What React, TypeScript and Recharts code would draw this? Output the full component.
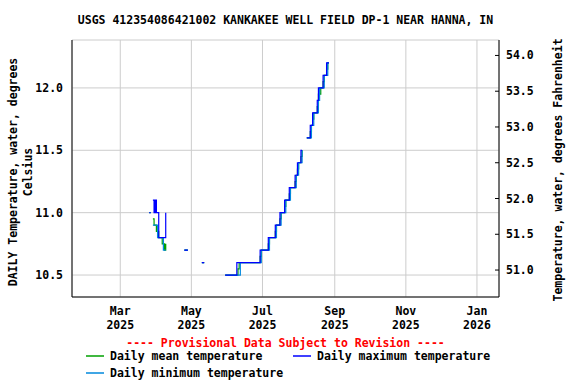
import React from 'react';
import { LineChart, Line, XAxis, YAxis, CartesianGrid } from 'recharts';

// daily values, one array per run of consecutive days
const segmentStart = ['2025-03-26', '2025-03-29', '2025-04-25', '2025-05-10', '2025-05-30', '2025-08-08'];

const dailyMax = [
  [11.0, 11.0],
  [11.1, 11.0, 11.1, 11.0, 11.0, 10.8, 10.8, 10.8, 10.8, 10.8, 10.8, 11.0],
  [10.7, 10.7, 10.7, 10.7],
  [10.6, 10.6, 10.6],
  [10.5, 10.5, 10.5, 10.5, 10.5, 10.5, 10.5, 10.5, 10.5, 10.5,
   10.6, 10.6, 10.6, 10.6, 10.6, 10.6, 10.6, 10.6, 10.6, 10.6,
   10.6, 10.6, 10.6, 10.6, 10.6, 10.6, 10.6, 10.6, 10.6, 10.6,
   10.7, 10.7, 10.7, 10.7, 10.7, 10.7, 10.7,
   10.8, 10.8, 10.8, 10.8, 10.8, 10.8,
   10.9, 10.9, 10.9, 10.9,
   11.0, 11.0, 11.0, 11.0,
   11.1, 11.1, 11.1, 11.1,
   11.2, 11.2, 11.2, 11.2, 11.2,
   11.3, 11.3,
   11.4, 11.4, 11.4,
   11.5, 11.5],
  [11.6, 11.6, 11.6, 11.7, 11.7, 11.8, 11.8, 11.8, 11.8, 11.9,
   12.0, 12.0, 12.0, 12.0, 12.1, 12.1, 12.1, 12.2, 12.2, 12.2],
];

const dailyMean = [
  [11.0, 11.0],
  [10.95, 10.9, 10.9, 10.85, 10.85, 10.8, 10.8, 10.8, 10.75, 10.75, 10.7, 10.75],
  [10.7, 10.7, 10.7, 10.7],
  [10.6, 10.6, 10.6],
  [10.5, 10.5, 10.5, 10.5, 10.5, 10.5, 10.5, 10.5, 10.5, 10.5,
   10.5, 10.55, 10.6, 10.6, 10.6, 10.6, 10.6, 10.6, 10.6, 10.6,
   10.6, 10.6, 10.6, 10.6, 10.6, 10.6, 10.6, 10.6, 10.6, 10.6,
   10.65, 10.7, 10.7, 10.7, 10.7, 10.7, 10.7,
   10.75, 10.8, 10.8, 10.8, 10.8, 10.8,
   10.85, 10.9, 10.9, 10.9,
   10.95, 11.0, 11.0, 11.0,
   11.05, 11.1, 11.1, 11.1,
   11.15, 11.2, 11.2, 11.2, 11.2,
   11.25, 11.3,
   11.35, 11.4, 11.4,
   11.45, 11.5],
  [11.6, 11.6, 11.6, 11.65, 11.7, 11.75, 11.8, 11.8, 11.8, 11.85,
   11.95, 11.95, 12.0, 12.0, 12.05, 12.1, 12.1, 12.15, 12.2, 12.2],
];

const dailyMin = [
  [11.0, 11.0],
  [10.9, 10.9, 10.9, 10.9, 10.8, 10.8, 10.8, 10.8, 10.8, 10.7, 10.7, 10.7],
  [10.7, 10.7, 10.7, 10.7],
  [10.6, 10.6, 10.6],
  [10.5, 10.5, 10.5, 10.5, 10.5, 10.5, 10.5, 10.5, 10.5, 10.5,
   10.5, 10.5, 10.5, 10.6, 10.6, 10.6, 10.6, 10.6, 10.6, 10.6,
   10.6, 10.6, 10.6, 10.6, 10.6, 10.6, 10.6, 10.6, 10.6, 10.6,
   10.6, 10.7, 10.7, 10.7, 10.7, 10.7, 10.7,
   10.7, 10.8, 10.8, 10.8, 10.8, 10.8,
   10.8, 10.9, 10.9, 10.9,
   10.9, 11.0, 11.0, 11.0,
   11.0, 11.1, 11.1, 11.1,
   11.1, 11.2, 11.2, 11.2, 11.2,
   11.2, 11.3,
   11.3, 11.4, 11.4,
   11.4, 11.5],
  [11.6, 11.6, 11.6, 11.6, 11.7, 11.7, 11.8, 11.8, 11.8, 11.8,
   11.9, 12.0, 12.0, 12.0, 12.0, 12.1, 12.1, 12.1, 12.2, 12.2],
];

const tickDates = ['2025-03-01', '2025-05-01', '2025-07-01', '2025-09-01', '2025-11-01', '2026-01-01'];
const tickMonths = ['Mar', 'May', 'Jul', 'Sep', 'Nov', 'Jan'];
const tickYears = ['2025', '2025', '2025', '2025', '2025', '2026'];

const celsiusTicks = [10.5, 11.0, 11.5, 12.0];
const fahrenheitTicks = [51.0, 51.5, 52.0, 52.5, 53.0, 53.5, 54.0];

const FONT = '"DejaVu Sans Mono", monospace';
const MEAN = '#00a000';
const MAX = '#0000ff';
const MIN = '#0088dd';

const toDay = (s: string) => {
  const [y, m, d] = s.split('-').map(Number);
  return (Date.UTC(y, m - 1, d) - Date.UTC(2025, 0, 1)) / 86400000;
};

const rows: any[] = [];
segmentStart.forEach((start, s) => {
  const d0 = toDay(start);
  dailyMax[s].forEach((v, i) => {
    rows.push({ day: d0 + i, max: v, mean: dailyMean[s][i], min: dailyMin[s][i] });
  });
  rows.push({ day: d0 + dailyMax[s].length, max: null, mean: null, min: null });
});

const tickDays = tickDates.map(toDay);

const MonthTick = (props: any) => {
  const { x, y, payload } = props;
  const i = tickDays.indexOf(payload.value);
  return (
    <text x={x} y={y} textAnchor="middle" fontFamily={FONT} fontWeight="bold" fontSize={11.5} fill="#000">
      <tspan x={x} dy={18}>{tickMonths[i]}</tspan>
      <tspan x={x} dy={14}>{tickYears[i]}</tspan>
    </text>
  );
};

const LeftTick = (props: any) => {
  const { x, y, payload } = props;
  return (
    <text x={x - 9} y={y + 4} textAnchor="end" fontFamily={FONT} fontWeight="bold" fontSize={11.5} fill="#000">
      {payload.value.toFixed(1)}
    </text>
  );
};

const RightTick = (props: any) => {
  const { x, y, payload } = props;
  return (
    <g>
      <line x1={x - 4} x2={x} y1={y} y2={y} stroke="#000" />
      <text x={x + 7} y={y + 4} textAnchor="start" fontFamily={FONT} fontWeight="bold" fontSize={11.5} fill="#000">
        {payload.value.toFixed(1)}
      </text>
    </g>
  );
};

const txt = { fontFamily: FONT, fontWeight: 'bold' as const, fontSize: 11.5, fill: '#000' };

export default function App() {
  return (
    <div style={{ position: 'absolute', left: 0, top: 0, width: 576, height: 384, background: '#fff' }}>
      <LineChart width={576} height={384} data={rows} margin={{ top: 40, right: 0, bottom: 0, left: 0 }}>
        <CartesianGrid stroke="#cccccc" xAxisId="x" yAxisId="c" />
        <XAxis
          xAxisId="x"
          dataKey="day"
          type="number"
          domain={[17.6, 383.9]}
          ticks={tickDays}
          tick={<MonthTick />}
          tickLine={false}
          tickSize={0}
          tickMargin={0}
          height={87}
          axisLine={{ stroke: '#000' }}
          allowDataOverflow
        />
        <XAxis
          xAxisId="top"
          orientation="top"
          dataKey="day"
          type="number"
          domain={[17.6, 383.9]}
          tick={false}
          tickLine={false}
          height={0}
          axisLine={{ stroke: '#000' }}
          allowDataOverflow
        />
        <YAxis
          yAxisId="c"
          domain={[10.324, 12.384]}
          ticks={celsiusTicks}
          tick={<LeftTick />}
          tickLine={false}
          tickSize={0}
          tickMargin={0}
          width={72}
          axisLine={{ stroke: '#000' }}
          allowDataOverflow
        />
        <YAxis
          yAxisId="f"
          orientation="right"
          domain={[50.623, 54.216]}
          ticks={fahrenheitTicks}
          tick={<RightTick />}
          tickLine={false}
          tickSize={0}
          tickMargin={0}
          width={77}
          axisLine={{ stroke: '#000' }}
          allowDataOverflow
        />
        <Line xAxisId="x" yAxisId="c" type="stepAfter" dataKey="mean" stroke={MEAN} strokeWidth={1.2} dot={false} isAnimationActive={false} />
        <Line xAxisId="x" yAxisId="c" type="stepAfter" dataKey="min" stroke={MIN} strokeWidth={1.2} dot={false} isAnimationActive={false} />
        <Line xAxisId="x" yAxisId="c" type="stepAfter" dataKey="max" stroke={MAX} strokeWidth={1.2} dot={false} isAnimationActive={false} />
      </LineChart>

      <svg width={576} height={384} style={{ position: 'absolute', left: 0, top: 0, pointerEvents: 'none' }}>
        <text x={285.5} y={24} textAnchor="middle" {...txt}>
          USGS 412354086421002 KANKAKEE WELL FIELD DP-1 NEAR HANNA, IN
        </text>
        <text transform="rotate(-90)" x={-172} y={17} textAnchor="middle" {...txt}>
          DAILY Temperature, water, degrees
        </text>
        <text transform="rotate(-90)" x={-172} y={32} textAnchor="middle" {...txt}>
          Celsius
        </text>
        <text transform="rotate(-90)" x={-170} y={562} textAnchor="middle" {...txt}>
          Temperature, water, degrees Fahrenheit
        </text>
        <text x={285.5} y={347} textAnchor="middle" {...txt} fill="#ff0000">
          ---- Provisional Data Subject to Revision ----
        </text>
        <line x1={86} x2={104} y1={356} y2={356} stroke={MEAN} strokeWidth={1.5} />
        <text x={110} y={360} {...txt}>Daily mean temperature</text>
        <line x1={293} x2={311} y1={356} y2={356} stroke={MAX} strokeWidth={1.5} />
        <text x={317} y={360} {...txt}>Daily maximum temperature</text>
        <line x1={86} x2={104} y1={373} y2={373} stroke={MIN} strokeWidth={1.5} />
        <text x={110} y={377} {...txt}>Daily minimum temperature</text>
      </svg>
    </div>
  );
}
